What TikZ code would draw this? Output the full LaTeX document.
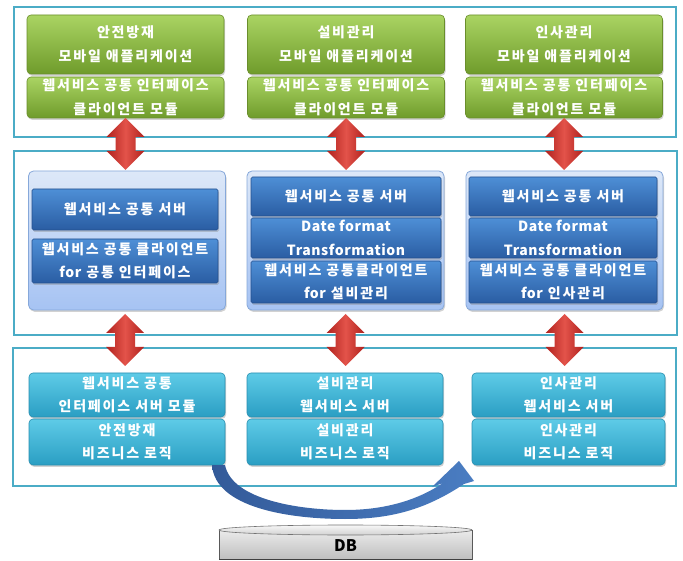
\documentclass[tikz,border=0pt]{standalone}
\usepackage{fontspec}
\newfontfamily\kr{Noto Sans CJK KR}[LetterSpace=13]
\newfontfamily\krlat{Noto Sans CJK KR}[LetterSpace=4]
\newfontfamily\krdb{Noto Sans CJK KR}
\usetikzlibrary{calc,shadows}
\definecolor{obox}{HTML}{4BACC6}
\definecolor{gtop}{HTML}{AAD463}
\definecolor{gbot}{HTML}{6F9B2B}
\definecolor{gdraw}{HTML}{6A8E2C}
\definecolor{btop}{HTML}{4E8FD6}
\definecolor{bbot}{HTML}{2A5DA3}
\definecolor{bdraw}{HTML}{25508E}
\definecolor{ptop}{HTML}{DDE8F8}
\definecolor{pbot}{HTML}{A6C3F3}
\definecolor{pdraw}{HTML}{86A8DA}
\definecolor{ctop}{HTML}{5ECBE7}
\definecolor{cbot}{HTML}{2A9EC3}
\definecolor{cdraw}{HTML}{2A8FB0}
\definecolor{rdark}{HTML}{B0221E}
\definecolor{rlight}{HTML}{E3534A}
\definecolor{adark}{HTML}{335A99}
\definecolor{alight}{HTML}{4A7DC2}
\begin{document}
\begin{tikzpicture}[x=1pt,y=-1pt,
  every node/.style={inner sep=0pt,outer sep=0pt},
  txt/.style={text=white,font=\kr\bfseries\fontsize{14}{23.5}\selectfont,align=center},
  lat/.style={font=\krlat\bfseries\fontsize{14}{23.5}\selectfont},
  outerbox/.style={draw=obox,line width=2.4pt,fill=white},
  shad/.style={drop shadow={shadow xshift=1pt,shadow yshift=-1.8pt,opacity=0.35}},
  greenbox/.style={txt,shad,rounded corners=4pt,draw=gdraw,line width=0.6pt,top color=gtop,bottom color=gbot,minimum width=197},
  bluebox/.style={txt,shad,rounded corners=1.5pt,draw=bdraw,line width=0.6pt,top color=btop,bottom color=bbot},
  panel/.style={shad,rounded corners=5pt,draw=pdraw,line width=0.8pt,top color=ptop,bottom color=pbot,minimum width=197,minimum height=139},
  cyanbox/.style={txt,shad,rounded corners=4pt,draw=cdraw,line width=0.6pt,top color=ctop,bottom color=cbot},
  redarrow/.style={left color=rdark,right color=rdark,middle color=rlight},
  curvarrow/.style={left color=adark,right color=alight}
]
\useasboundingbox (0,0) rectangle (683,561);
\fill[white] (0,0) rectangle (683,561);

% outer frames
\draw[outerbox] (14,7) rectangle (676,137);
\draw[outerbox] (14,151) rectangle (677,335);
\draw[outerbox] (13,348) rectangle (676,486);

% top row (green)
\node[greenbox,minimum height=59] (g1a) at (125.5,44.5) {안전방재\\모바일 애플리케이션};
\node[greenbox,minimum height=41] (g1b) at (125.5,97.5) {웹서비스 공통 인터페이스\\클라이언트 모듈};
\node[greenbox,minimum height=59] (g2a) at (346,44.5) {설비관리\\모바일 애플리케이션};
\node[greenbox,minimum height=41] (g2b) at (346,97.5) {웹서비스 공통 인터페이스\\클라이언트 모듈};
\node[greenbox,minimum height=59] (g3a) at (564,44.5) {인사관리\\모바일 애플리케이션};
\node[greenbox,minimum height=41] (g3b) at (564,97.5) {웹서비스 공통 인터페이스\\클라이언트 모듈};

% middle row panels
\node[panel] (p1) at (127,240.5) {};
\node[panel] (p2) at (345.5,240.5) {};
\node[panel] (p3) at (564.5,240.5) {};

\node[bluebox,minimum width=186,minimum height=41] (b1a) at (125,209.5) {웹서비스 공통 서버};
\node[bluebox,minimum width=186,minimum height=44] (b1b) at (125,261) {웹서비스 공통 클라이언트\\{\krlat for} 공통 인터페이스};

\node[bluebox,minimum width=190,minimum height=39] (b2a) at (346,196.5) {웹서비스 공통 서버};
\node[bluebox,lat,minimum width=190,minimum height=40] (b2b) at (346,238) {Date format\\Transformation};
\node[bluebox,minimum width=190,minimum height=42] (b2c) at (346,282) {웹서비스 공통클라이언트\\{\krlat for} 설비관리};

\node[bluebox,minimum width=188,minimum height=39] (b3a) at (563,196.5) {웹서비스 공통 서버};
\node[bluebox,lat,minimum width=188,minimum height=40] (b3b) at (563,238) {Date format\\Transformation};
\node[bluebox,minimum width=188,minimum height=42] (b3c) at (563,282) {웹서비스 공통 클라이언트\\{\krlat for} 인사관리};

% bottom row (cyan)
\node[cyanbox,minimum width=196,minimum height=44] (c1a) at (127,395) {웹서비스 공통\\인터페이스 서버 모듈};
\node[cyanbox,minimum width=196,minimum height=46] (c1b) at (127,442) {안전방재\\비즈니스 로직};
\node[cyanbox,minimum width=196,minimum height=44] (c2a) at (345,395) {설비관리\\웹서비스 서버};
\node[cyanbox,minimum width=196,minimum height=46] (c2b) at (345,442) {설비관리\\비즈니스 로직};
\node[cyanbox,minimum width=193,minimum height=44] (c3a) at (568.5,395) {인사관리\\웹서비스 서버};
\node[cyanbox,minimum width=193,minimum height=46] (c3b) at (568.5,442) {인사관리\\비즈니스 로직};

% red double arrows
\newcommand\redtwin[2]{%
  \path[redarrow] let \p1=#1, \p2=#2 in
    (\x1,\y1) -- (\x1+19pt,\y1-19pt) -- (\x1+10pt,\y1-19pt) -- (\x1+10pt,\y2+19pt)
    -- (\x1+19pt,\y2+19pt) -- (\x1,\y2) -- (\x1-19pt,\y2+19pt) -- (\x1-10pt,\y2+19pt)
    -- (\x1-10pt,\y1-19pt) -- (\x1-19pt,\y1-19pt) -- cycle;}
\redtwin{(g1b.south)}{($(p1.north)+(0,-1)$)}
\redtwin{(g2b.south)}{($(p2.north)+(0,-1)$)}
\redtwin{(g3b.south)}{($(p3.north)+(0,-1)$)}
\redtwin{($(p1.south)+(-2,4)$)}{($(c1a.north)+(0,-7)$)}
\redtwin{($(p2.south)+(0,4)$)}{($(c2a.north)+(0,-7)$)}
\redtwin{($(p3.south)+(0,4)$)}{($(c3a.north)+(-4,-7)$)}

% DB cylinder
\path[top color=black!8,bottom color=black!25,draw=black!65,line width=0.6pt]
  (219,530) -- (219,559) -- (472,559) -- (472,530) -- cycle;
\draw[black!75,line width=1pt] (219,559) -- (472,559);
\path[top color=black!3,bottom color=black!18,draw=black!55,line width=0.6pt]
  (345.5,530) ellipse [x radius=126.5,y radius=5];
\node[font=\krdb\bfseries\fontsize{16}{18}\selectfont,text=black] (db) at (345.5,546) {DB};

% curved blue arrow from safety logic to HR logic
\path[curvarrow] (c1b.south east) .. controls (232,500) and (300,510) .. (345,510)
  .. controls (385,510) and (418,500) .. (443,483) -- (432,487) -- (459,461)
  -- (474,481) -- (464,484) .. controls (425,510) and (390,519) .. (345,519)
  .. controls (290,519) and (215,508) .. ($(c1b.south east)+(-13,0)$) -- cycle;
\end{tikzpicture}
\end{document}
